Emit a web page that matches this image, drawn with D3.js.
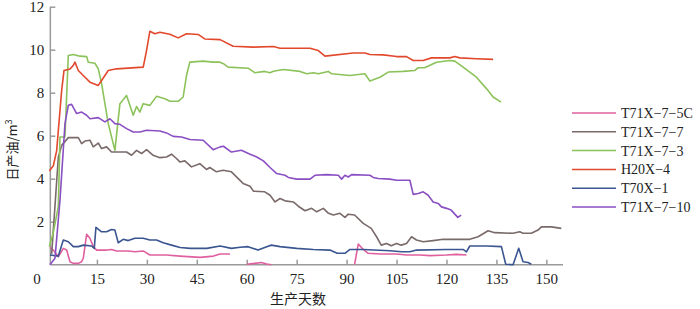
<!DOCTYPE html>
<html>
<head>
<meta charset="utf-8">
<script src="https://cdn.jsdelivr.net/npm/d3@7"></script>
<style>
	body { margin: 0; background: #fff; }
	text { font-family: "Liberation Serif", "DejaVu Serif", serif; fill: #222; }
	.cjk { font-family: "Noto Sans CJK SC", sans-serif; }
</style>
</head>
<body>
<svg id="chart"></svg>
<script>
// series values, [day, oil m3]; null marks a gap
const seriesNames = ['T71X−7−5C', 'T71X−7−7', 'T71X−7−3', 'H20X−4', 'T70X−1', 'T71X−7−10'];
const xTicks = [15, 30, 45, 60, 75, 90, 105, 120, 135, 150];
const yTicks = [2, 4, 6, 8, 10, 12];

const t5c = [[0.9,0.81],[1.9,0.68],[3.4,0.37],[4.9,0.76],[5.9,0.68],[6.9,0.14],[7.9,0.06],[9.4,0.06],[10.4,0.14],[10.9,0.3],[11.9,1.41],[12.9,1.23],[13.9,0.84],[14.9,0.68],[17.9,0.68],[19.4,0.71],[20.9,0.64],[24.4,0.64],[26.4,0.6],[28.9,0.64],[30.9,0.45],[35.9,0.45],[39.9,0.4],[46,0.34],[50,0.4],[52,0.5],[55,0.5],
	null,[60,0.02],[62.4,0.06],[64.4,0.1],[66,0.03],[67.4,0],
	null,[92.4,0.02],[93.5,0.96],[95,0.71],[96.5,0.53],[100,0.5],[105,0.5],[108,0.45],[112,0.45],[115,0.42],[120,0.45],[123,0.48],[126,0.45]];
const t77 = [[1.4,0.5],[3.4,5.0],[4.4,5.55],[6.4,5.91],[9.4,5.91],[10.4,5.63],[11.4,5.75],[12.9,5.79],[13.9,5.48],[15.4,5.66],[16.4,5.4],[17.9,5.48],[19.4,5.24],[21.9,5.24],[23.9,5.24],[25.4,5.09],[26.9,5.32],[28.4,5.17],[29.9,5.35],[31.9,5.09],[33.9,4.98],[35.9,5.01],[37.4,5.14],[38.9,4.94],[39.9,4.78],[41.4,4.83],[43.4,4.55],[45.9,4.7],[47.9,4.43],[48.9,4.52],[50.9,4.32],[52.9,4.39],[55.4,4.32],[58.9,3.78],[61,3.65],[62,3.42],[65.4,3.39],[67,3.23],[68.5,2.92],[70,3.08],[71.5,2.97],[74,2.92],[75.5,2.72],[77.5,2.51],[79.5,2.62],[81,2.46],[83,2.62],[84.4,2.41],[86,2.31],[88,2.39],[89.5,2.2],[90.5,2.35],[92.4,2.31],[95,1.92],[97.4,1.69],[99,1.3],[100.4,0.91],[102,0.99],[103.4,0.88],[105,0.99],[106.4,0.91],[108,0.99],[109.5,1.3],[111,1.15],[113,1.07],[116,1.12],[119,1.18],[127,1.18],[129.5,1.3],[132.5,1.58],[134.5,1.49],[140,1.46],[142,1.53],[143,1.46],[145.5,1.46],[147.5,1.61],[148.5,1.76],[151.5,1.76],[154.5,1.69]];
const t73 = [[0.7,0.84],[1.9,1.5],[3.4,2.7],[3.9,5.94],[5.4,5.94],[6.4,9.73],[7.9,9.78],[9.9,9.7],[11.9,9.68],[12.4,9.42],[14.4,9.37],[15.4,9.11],[16.4,8.42],[17.4,7.49],[18.4,6.56],[20.4,5.32],[21.9,7.49],[23.9,7.87],[25.9,6.95],[26.9,7.36],[27.9,7.1],[28.9,7.49],[30.9,7.41],[32.9,7.83],[35.4,7.72],[36.9,7.6],[39.4,7.6],[40.9,7.8],[41.9,8.8],[42.9,9.42],[46.9,9.47],[49.9,9.42],[52,9.42],[53,9.35],[54.4,9.19],[60.4,9.14],[62.4,8.93],[65.4,8.99],[67,8.93],[68,9.0],[71,9.08],[76,8.99],[78,8.88],[80,8.93],[81.5,8.88],[84.5,8.99],[85.5,8.88],[91,8.8],[95.5,8.88],[97,8.54],[100,8.72],[102.5,8.96],[107,8.99],[110.4,9.03],[111.5,9.16],[113.4,9.16],[117,9.42],[121,9.5],[122.5,9.47],[125,9.19],[129,8.72],[132,8.19],[134,7.8],[136.4,7.56]];
const h204 = [[0.7,4.36],[1.9,4.6],[2.9,5.3],[4.4,8.1],[5.1,9.03],[6.9,9.1],[7.9,9.27],[8.4,9.42],[9.4,9.03],[10.9,8.8],[12.9,8.49],[15.4,8.34],[16.4,8.57],[18.4,9.03],[20.9,9.11],[28.9,9.19],[29.9,9.96],[30.9,10.86],[32.4,10.74],[33.9,10.81],[36.9,10.72],[39.4,10.55],[41.9,10.74],[45.4,10.71],[47.4,10.5],[52,10.47],[55.9,10.16],[62,10.12],[68,10.15],[70,10.07],[79,10.07],[81.5,9.96],[83.5,9.7],[92,9.85],[95.5,9.85],[97,9.78],[101,9.76],[105,9.68],[108,9.68],[110,9.5],[113,9.5],[115.5,9.62],[121,9.62],[122.5,9.68],[124,9.62],[129,9.58],[134,9.55]];
const t701 = [[0.9,0.45],[3.4,0.4],[4.9,1.15],[6.4,1.07],[7.9,0.84],[9.4,0.84],[10.9,0.91],[13.4,0.87],[14.2,0.76],[14.7,1.74],[16.4,1.53],[17.9,1.53],[19.4,1.64],[20.4,1.61],[21.4,1.02],[22.9,1.18],[24.4,1.12],[26.4,1.23],[28.9,1.23],[30.9,1.15],[32.9,1.15],[34.9,1.02],[37.4,0.91],[40,0.8],[43,0.76],[48,0.76],[52,0.87],[55.4,0.76],[58,0.81],[60.4,0.84],[63.4,0.68],[66,0.84],[67.4,0.91],[70,0.84],[75,0.76],[80,0.71],[85,0.68],[87,0.54],[89.5,0.53],[91,0.71],[95,0.71],[103,0.65],[106.5,0.6],[109,0.6],[111,0.68],[120,0.71],[125,0.71],[126,0.6],[127,0.87],[132,0.87],[136.5,0.84],[137.8,0.02],[140,0],[141.7,0.76],[143,0.14],[144.5,0.1],[145.5,0.02]];
const t710 = [[0.9,0],[2.4,0.3],[3.9,3.0],[5.4,6.56],[6.4,7.41],[7.4,7.46],[8.9,7.03],[10.4,7.1],[11.9,6.95],[12.9,6.79],[15.4,6.84],[17.4,6.64],[18.9,6.79],[20.4,6.56],[21.9,6.53],[23.9,6.33],[25.9,6.17],[27.9,6.17],[29.9,6.25],[33.9,6.22],[35.9,6.13],[37.9,5.97],[40.4,5.94],[42.9,5.82],[46.9,5.79],[49.9,5.35],[52,5.48],[53,5.51],[55.4,5.24],[58.4,5.32],[61,5.14],[63,5.01],[65,4.83],[67,4.52],[69,4.24],[71.5,4.16],[72.5,4.06],[75,3.98],[79,3.98],[80.5,4.16],[84,4.19],[87.5,4.16],[88.5,3.98],[89.5,4.16],[90.5,4.08],[91.5,4.19],[97,4.16],[98,4.06],[99.5,4.01],[103,3.98],[105,3.93],[109,3.93],[110,3.27],[111.5,3.31],[113,3.39],[114.5,3.23],[116,2.92],[117.5,2.85],[118.5,2.69],[120,2.62],[121.4,2.54],[123.4,2.2],[124.4,2.31]];

const seriesData = [t5c, t77, t73, h204, t701, t710];
const seriesColors = ['#e0609f', '#7a6a6a', '#8cc25a', '#e2482c', '#3a5590', '#8a4fc2'];

const svg = d3.select('#chart')
	.attr('width', 700)
	.attr('height', 309);

const x = d3.scaleLinear().domain([0, 155]).range([47, 563]);
const y = d3.scaleLinear().domain([0, 12]).range([264.7, 6.7]);
const axisColor = '#9a9a9a';

// axes
const xAxis = svg.append('g')
	.attr('transform', `translate(0,${y(0)})`)
	.call(d3.axisBottom(x).tickValues(xTicks).tickSizeInner(-5).tickSizeOuter(0).tickPadding(9));
xAxis.select('.domain').attr('d', `M${x(1)},0H${x(155)}`);
const yAxis = svg.append('g')
	.attr('transform', `translate(${x(1)},0)`)
	.call(d3.axisLeft(y).tickValues(yTicks).tickSizeInner(-5).tickSizeOuter(0).tickPadding(6));
yAxis.select('.domain').attr('d', `M0,${y(12)}V${y(0)}`);
[xAxis, yAxis].forEach(a => {
	a.selectAll('.domain, .tick line').attr('stroke', axisColor).attr('stroke-width', 1.5);
	a.selectAll('.tick text').attr('font-size', 15).attr('fill', '#222')
		.attr('font-family', '"Liberation Serif", serif');
});
svg.append('text')
	.attr('x', x(0) - 10).attr('y', y(0) + 19)
	.attr('text-anchor', 'middle')
	.attr('font-size', 15)
	.text('0');

// axis titles
svg.append('text')
	.attr('class', 'cjk')
	.attr('x', 298).attr('y', 304)
	.attr('text-anchor', 'middle')
	.attr('font-size', 14)
	.text('生产天数');
svg.append('text')
	.attr('class', 'cjk')
	.attr('transform', 'translate(17,150) rotate(-90)')
	.attr('text-anchor', 'middle')
	.attr('font-size', 13)
	.html('日产油/m<tspan dy="-5" font-size="9">3</tspan>');

// lines
const line = d3.line()
	.defined(d => d !== null)
	.x(d => x(d[0]))
	.y(d => y(d[1]));

seriesData.forEach((data, i) => {
	svg.append('path')
		.datum(data)
		.attr('d', line)
		.attr('fill', 'none')
		.attr('stroke', seriesColors[i])
		.attr('stroke-width', 1.6)
		.attr('stroke-linejoin', 'round');
});

// legend
const legend = svg.append('g').attr('transform', 'translate(572,113)');
seriesNames.forEach((name, i) => {
	const g = legend.append('g').attr('transform', `translate(0,${i * 18.8})`);
	g.append('line')
		.attr('x1', 0).attr('x2', 44)
		.attr('stroke', seriesColors[i])
		.attr('stroke-width', 1.5);
	g.append('text')
		.attr('x', 49).attr('y', 5)
		.attr('font-size', 14)
		.text(name);
});
</script>
</body>
</html>
